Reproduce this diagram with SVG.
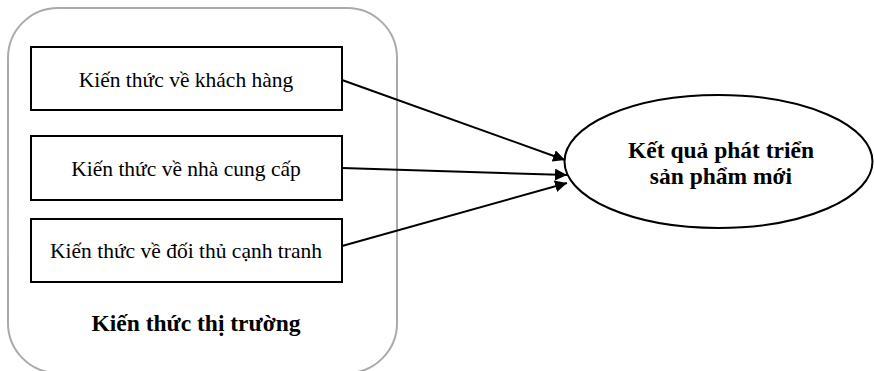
<svg xmlns="http://www.w3.org/2000/svg" width="874" height="371" viewBox="0 0 874 371">
<style>
.box{fill:#fff;stroke:#000;stroke-width:2}
.t{font-family:"Liberation Serif","Times New Roman",serif;font-size:21.5px;fill:#000;text-anchor:middle}
.b{font-family:"Liberation Serif","Times New Roman",serif;font-size:23.5px;font-weight:bold;fill:#000;text-anchor:middle}
.c{stroke:#000;stroke-width:2;fill:none;marker-end:url(#ah)}
</style>
<defs>
<marker id="ah" viewBox="0 0 10 10" refX="10" refY="5" markerWidth="6" markerHeight="6" orient="auto" markerUnits="strokeWidth">
<path d="M0,0 L10,5 L0,10 z" fill="#000"/>
</marker>
</defs>
<g id="group-market">
<rect x="8" y="8" width="389" height="365" rx="50" ry="50" fill="#fff" stroke="#aaa" stroke-width="2"/>
<text class="b" x="196" y="331">Kiến thức thị trường</text>
</g>
<g id="node-customer">
<rect class="box" x="31" y="47" width="311" height="63"/>
<text class="t" x="186" y="87">Kiến thức về khách hàng</text>
</g>
<g id="node-supplier">
<rect class="box" x="31" y="136" width="311" height="64"/>
<text class="t" x="186" y="176">Kiến thức về nhà cung cấp</text>
</g>
<g id="node-competitor">
<rect class="box" x="31" y="219" width="311" height="63"/>
<text class="t" x="186" y="258">Kiến thức về đối thủ cạnh tranh</text>
</g>
<g id="node-result">
<ellipse cx="718.5" cy="161.5" rx="154" ry="66.5" fill="#fff" stroke="#000" stroke-width="2"/>
<text class="b" x="721" y="158">Kết quả phát triển</text>
<text class="b" x="721" y="184">sản phẩm mới</text>
</g>
<g id="connectors">
<line class="c" x1="342" y1="80" x2="565" y2="160"/>
<line class="c" x1="342" y1="168" x2="567" y2="175"/>
<line class="c" x1="342" y1="246" x2="567" y2="183"/>
</g>
</svg>
